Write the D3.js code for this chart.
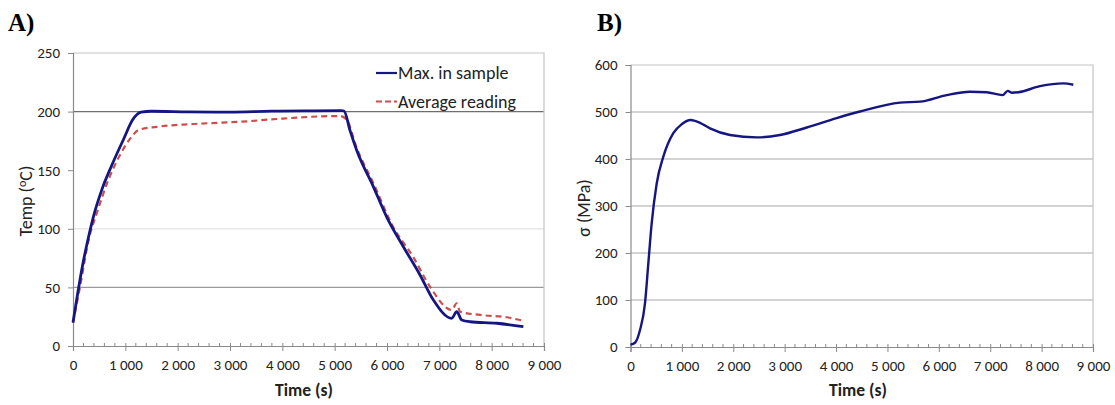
<!DOCTYPE html>
<html lang="en">
<meta charset="utf-8">
<head>
    <title>Temperature and stress vs time</title>
    <script src="https://d3js.org/d3.v7.min.js"></script>
    <style>
        body { margin: 0; background: #fff; }
        text { font-family: Carlito, Lato, "Open Sans", sans-serif; fill: #222; }
        .panel-label { font-family: "Liberation Serif", serif; font-weight: bold; font-size: 25px; fill: #000; }
        .tick-label { font-size: 15px; }
        .axis-title { font-size: 17.5px; font-weight: bold; }
        .y-title { font-size: 18px; }
        .legend { font-size: 18px; }
    </style>
</head>
<body>
<div id="chart"></div>
<script>
    // ---- data ----
    // panel A: max temperature in sample (t in s, T in degC)
    const maxTime  = [0, 90, 197, 312, 388, 548, 739, 962, 1140, 1300, 1500, 2200, 3000, 3800, 4400, 5134, 5179, 5293, 5421, 5739, 5995, 6313, 6631, 6886, 7237, 7332, 7428, 7587, 8097, 8606];
    const maxTemp  = [20, 45, 72, 96, 110, 133, 154, 176, 193, 199.5, 200.3, 199.8, 199.6, 200.4, 200.6, 200.8, 200.5, 184, 167, 136, 110, 84.7, 60.6, 39.2, 23.6, 29.3, 22.2, 20.7, 19.4, 16.5];

    // panel A: average reading
    const avgTime  = [0, 134, 312, 452, 675, 898, 1121, 1249, 1599, 2299, 3319, 3892, 5039, 5102, 5230, 5421, 5739, 6116, 6498, 6822, 7237, 7332, 7396, 7778, 8288, 8606];
    const avgTemp  = [19.6, 50.6, 93, 113, 141.6, 163, 178.6, 184.3, 187, 189.4, 191.7, 193.7, 196.2, 196.2, 193, 169, 139, 101.8, 76.2, 50.6, 30.7, 36.4, 29.3, 26.5, 24.5, 21.5];

    // panel B: stress (t in s, sigma in MPa)
    const stressTime = [0, 88, 185, 282, 347, 412, 510, 639, 833, 996, 1171, 1352, 1547, 1936, 2456, 2909, 3429, 4012, 4466, 5244, 5634, 6153, 6606, 6931, 7242, 7340, 7418, 7546, 7969, 8422, 8617];
    const stressVal  = [5, 9, 36, 93, 178, 263, 348, 405, 455, 474, 483, 477, 465, 451, 446, 451, 467, 487, 501, 520, 522, 536, 543, 542, 536, 545, 541, 542, 555, 561, 558];

    const xTicks = [0, 1000, 2000, 3000, 4000, 5000, 6000, 7000, 8000, 9000];
    const tempTicks = [0, 50, 100, 150, 200, 250];
    const stressTicks = [0, 100, 200, 300, 400, 500, 600];

    const legendNames = ["Max. in sample", "Average reading"];

    const fmtX = d => d === 0 ? "0" : d3.format(",")(d).replace(",", " ");

    const svg = d3.select("#chart").append("svg")
        .attr("width", 1115)
        .attr("height", 405);

    svg.append("rect").attr("width", 1115).attr("height", 405).attr("fill", "#fff");

    function drawPanel(opt) {
        let x = d3.scaleLinear().domain([0, 9000]).range([opt.left, opt.right]);
        let y = d3.scaleLinear().domain(opt.yDomain).range([opt.bottom, opt.top]);
        let g = svg.append("g");

        // gridlines
        g.selectAll(".grid").data(opt.grid).enter().append("line")
            .attr("x1", opt.left).attr("x2", opt.right)
            .attr("y1", d => y(d.v)).attr("y2", d => y(d.v))
            .attr("stroke", d => d.c).attr("stroke-width", 1.2);

        // frame (top + right)
        g.append("path")
            .attr("d", "M" + opt.left + "," + opt.top + "H" + opt.right + "V" + opt.bottom)
            .attr("fill", "none").attr("stroke", "#c4c4c4").attr("stroke-width", 1.2);

        // y axis
        let yAxis = d3.axisLeft(y).tickValues(opt.yTicks).tickSize(5).tickPadding(8);
        let ya = g.append("g").attr("transform", "translate(" + opt.left + ",0)").call(yAxis);
        ya.select(".domain").attr("stroke", "#8a8a8a").attr("stroke-width", 1.2);
        ya.selectAll(".tick line").attr("stroke", "#8a8a8a");
        ya.selectAll("text").attr("class", "tick-label").attr("fill", "#222");

        // x axis: minor ticks every 200, major every 1000
        let minor = d3.range(0, 9001, 200).filter(d => d % 1000 !== 0);
        g.selectAll(".minor").data(minor).enter().append("line")
            .attr("x1", d => x(d)).attr("x2", d => x(d))
            .attr("y1", opt.bottom - 3).attr("y2", opt.bottom)
            .attr("stroke", "#8a8a8a");
        let xAxis = d3.axisBottom(x).tickValues(xTicks).tickSize(5).tickPadding(8).tickFormat(fmtX);
        let xa = g.append("g").attr("transform", "translate(0," + opt.bottom + ")").call(xAxis);
        xa.select(".domain").attr("stroke", "#8a8a8a").attr("stroke-width", 1.2);
        xa.selectAll(".tick line").attr("stroke", "#8a8a8a").attr("y1", -3);
        xa.selectAll("text").attr("class", "tick-label").attr("fill", "#222");

        // titles
        svg.append("text").attr("class", "axis-title")
            .attr("x", opt.titleX).attr("y", 396)
            .attr("text-anchor", "middle").text("Time (s)");

        svg.append("text").attr("class", "panel-label")
            .attr("x", opt.labelX).attr("y", 31).text(opt.label);

        return {x: x, y: y, g: g};
    }

    // ---- panel A ----
    let A = drawPanel({
        left: 73, right: 544, top: 53, bottom: 346,
        yDomain: [0, 250], yTicks: tempTicks,
        grid: [{v: 50, c: "#9a9a9a"}, {v: 100, c: "#e2e2e2"}, {v: 200, c: "#6e6e6e"}],
        label: "A)", labelX: 8, titleX: 304
    });

    let yTitleA = svg.append("text").attr("class", "y-title")
        .attr("transform", "translate(32,201) rotate(-90)")
        .attr("text-anchor", "middle");
    yTitleA.append("tspan").text("Temp (");
    yTitleA.append("tspan").attr("font-size", "12px").attr("dy", "-6").text("o");
    yTitleA.append("tspan").attr("dy", "6").text("C)");

    let lineA = d3.line().x(d => A.x(d[0])).y(d => A.y(d[1])).curve(d3.curveMonotoneX);

    A.g.append("path")
        .datum(avgTime.map((t, i) => [t, avgTemp[i]]))
        .attr("d", lineA)
        .attr("fill", "none").attr("stroke", "#c9504e").attr("stroke-width", 2.2)
        .attr("stroke-dasharray", "6,4");

    A.g.append("path")
        .datum(maxTime.map((t, i) => [t, maxTemp[i]]))
        .attr("d", lineA)
        .attr("fill", "none").attr("stroke", "#161683").attr("stroke-width", 2.8);

    // legend
    let legend = svg.append("g").selectAll("g").data(legendNames).enter().append("g")
        .attr("transform", (d, i) => "translate(376," + (73 + i * 28.5) + ")");
    legend.append("line").attr("x1", 0).attr("x2", 21).attr("y1", 0).attr("y2", 0)
        .attr("stroke", (d, i) => i === 0 ? "#161683" : "#c9504e")
        .attr("stroke-width", (d, i) => i === 0 ? 2.2 : 1.8)
        .attr("stroke-dasharray", (d, i) => i === 0 ? null : "6,3");
    legend.append("text").attr("class", "legend")
        .attr("x", 22).attr("y", 6).text(d => d);

    // ---- panel B ----
    let B = drawPanel({
        left: 630.5, right: 1093, top: 65, bottom: 347,
        yDomain: [0, 600], yTicks: stressTicks,
        grid: [100, 200, 300, 400, 500].map(v => ({v: v, c: "#a8a8a8"})),
        label: "B)", labelX: 597, titleX: 858
    });

    svg.append("text").attr("class", "y-title")
        .attr("transform", "translate(590,208) rotate(-90)")
        .attr("text-anchor", "middle").text("σ (MPa)");

    let lineB = d3.line().x(d => B.x(d[0])).y(d => B.y(d[1])).curve(d3.curveMonotoneX);
    B.g.append("path")
        .datum(stressTime.map((t, i) => [t, stressVal[i]]))
        .attr("d", lineB)
        .attr("fill", "none").attr("stroke", "#161683").attr("stroke-width", 2.4);
</script>
</body>
</html>
